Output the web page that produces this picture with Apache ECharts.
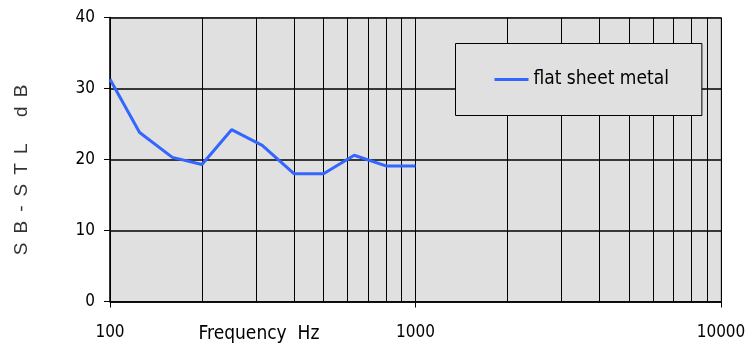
<!DOCTYPE html>
<html>
<head>
<meta charset="utf-8">
<script src="https://cdn.jsdelivr.net/npm/echarts@6/dist/echarts.min.js"></script>
<style>
html,body{margin:0;padding:0;background:#fff;}
#chart{width:745px;height:356px;}
</style>
</head>
<body>
<div id="chart"></div>
<script>
var frequencies = [100, 125, 160, 200, 250, 315, 400, 500, 630, 800, 1000];
var stlValues = [31.3, 23.8, 20.3, 19.3, 24.2, 22.0, 18.0, 18.0, 20.6, 19.1, 19.1];
var seriesName = 'flat sheet metal';
var xTickLabels = ['100', '1000', '10000'];
var yTickLabels = ['0', '10', '20', '30', '40'];
var xTitle = 'Frequency  Hz';
var yTitle = 'S\u2009 B\u2009 -\u2009 S\u2009 T\u2009 L     d\u2009 B';

var NARROW = '"DejaVu Sans Condensed", "Liberation Sans", Arial, sans-serif';
var chart = echarts.init(document.getElementById('chart'), null, {renderer: 'canvas'});
var data = frequencies.map(function (f, i) { return [f, stlValues[i]]; });

chart.setOption({
  animation: false,
  backgroundColor: '#ffffff',
  grid: {
    left: 110, right: 24, top: 17.5, bottom: 54.5,
    outerBoundsMode: 'none', containLabel: false,
    show: true, backgroundColor: '#e0e0e0', borderColor: '#9a9a9a', borderWidth: 1
  },
  legend: {
    left: 455.5, top: 43.5,
    icon: 'rect', itemWidth: 34, itemHeight: 3,
    padding: [22, 33, 22, 39],
    backgroundColor: '#e0e0e0', borderColor: '#000', borderWidth: 1,
    textStyle: {fontFamily: NARROW, fontSize: 19, color: '#000', lineHeight: 28},
    data: [seriesName]
  },
  xAxis: {
    type: 'log', logBase: 10, min: 100, max: 10000,
    axisLine: {show: true, lineStyle: {color: '#000', width: 1.5}},
    axisTick: {show: true, length: 6, lineStyle: {color: '#000'}},
    axisLabel: {
      margin: 23, fontFamily: NARROW, fontSize: 17, color: '#000',
      formatter: function (v) {
        var s = String(Math.round(v));
        return xTickLabels.indexOf(s) >= 0 ? s : '';
      }
    },
    splitLine: {show: true, lineStyle: {color: '#000', width: 1}},
    minorTick: {show: false, splitNumber: 9},
    minorSplitLine: {show: true, lineStyle: {color: '#000', width: 1}}
  },
  yAxis: {
    type: 'value', min: 0, max: 40, interval: 10,
    axisLine: {show: true, lineStyle: {color: '#000', width: 1.5}},
    axisTick: {show: true, length: 6, lineStyle: {color: '#000'}},
    axisLabel: {
      margin: 15, fontFamily: NARROW, fontSize: 17, color: '#000',
      formatter: function (v) { return yTickLabels[Math.round(v / 10)]; }
    },
    splitLine: {show: true, lineStyle: {color: '#000', width: 1.5}}
  },
  graphic: [
    {
      type: 'text', x: 259, y: 334,
      style: {text: xTitle, fontFamily: NARROW, fontSize: 19, fill: '#000',
              align: 'center', verticalAlign: 'middle'}
    },
    {
      type: 'text', x: 21.5, y: 170, rotation: Math.PI / 2,
      style: {text: yTitle, fontFamily: '"Liberation Sans", Arial, sans-serif', fontSize: 19,
              fill: '#333', align: 'center', verticalAlign: 'middle'}
    }
  ],
  series: [{
    name: seriesName, type: 'line', data: data,
    showSymbol: false, symbol: 'none',
    lineStyle: {color: '#3366ff', width: 3},
    itemStyle: {color: '#3366ff'},
    z: 5
  }]
});
</script>
</body>
</html>
